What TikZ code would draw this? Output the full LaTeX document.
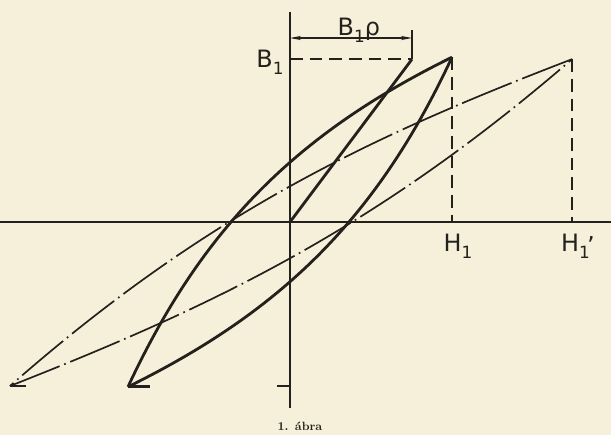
\documentclass[tikz,border=0pt]{standalone}
\usepackage{fontspec}
\setsansfont{DejaVu Sans}
\usetikzlibrary{arrows.meta, positioning, calc}
\definecolor{paper}{RGB}{246,240,219}
\definecolor{ink}{RGB}{36,32,28}
\newcommand{\idx}[1]{\raisebox{-0.55ex}{\fontsize{12}{13}\selectfont #1}}

\begin{document}
\begin{tikzpicture}[
    axis/.style={draw=ink, line width=1.1pt},
    loopline/.style={draw=ink, line width=2pt},
    dashdot/.style={draw=ink, line width=1.2pt, dash pattern=on 38pt off 3.5pt on 1.2pt off 3.5pt},
    guide/.style={draw=ink, line width=1.3pt, dash pattern=on 9pt off 5pt},
    lbl/.style={font=\sffamily\fontsize{17}{19}\selectfont, text=ink, inner sep=1pt},
    dim/.style={{Stealth[length=8pt,width=3pt]}-{Stealth[length=8pt,width=3pt]}, draw=ink, line width=0.8pt}
  ]

    % Paper
    \fill[paper] (-7.25,-5.325) rectangle (8.025,5.55);
    \useasboundingbox (-7.25,-5.325) rectangle (8.025,5.55);

    % Points
    \coordinate (O) at (0,0);
    \coordinate (ytop) at (0,5.25);
    \coordinate (ybot) at (0,-4.65);
    \coordinate (xl) at (-7.25,0);
    \coordinate (xr) at (8.025,0);
    \coordinate (solidtip) at (4.05,4.12);
    \coordinate (solidlow) at (-4.05,-4.12);
    \coordinate (dashtip) at (7.05,4.07);
    \coordinate (dashlow) at (-7.0,-4.1);
    \coordinate (b1pt) at (0,4.07);
    \coordinate (rho) at (3.05,4.07);
    \coordinate (rhotop) at (3.05,4.8);
    \coordinate (dimL) at (0,4.6);
    \coordinate (dimR) at (3.05,4.6);
    \coordinate (mb1) at (0,-4.1);

    % Axes
    \draw[axis] (xl) -- (xr);
    \draw[axis] (ybot) -- (ytop);
    \draw[axis] (mb1) -- ++(-0.33,0);

    % Dimension B1 rho
    \draw[axis] (rho) -- (rhotop);
    \draw[dim] (dimL) -- (dimR);
    \node[lbl, anchor=base west] (brho) at (1.15,4.66) {B\idx{1}ρ};

    % Guides
    \draw[guide] (b1pt) -- (rho);
    \draw[guide] (solidtip) -- (solidtip |- O);
    \draw[guide] (dashtip) -- (dashtip |- O);

    % Solid loop
    \draw[loopline] (solidtip) .. controls (0.15,2.2) and (-2.2,-0.15) .. (solidlow);
    \draw[loopline] (solidlow) .. controls (-0.15,-2.2) and (2.2,0.15) .. (solidtip);
    \draw[loopline] (rho) -- (O);
    \draw[loopline] (solidlow) -- ++(0.55,0);

    % Dash-dot loop
    \draw[dashdot] (dashtip) .. controls (2.05,2.15) and (-2.05,0.25) .. (dashlow);
    \draw[dashdot] (dashlow) .. controls (-2.05,-2.15) and (2.05,-0.25) .. (dashtip);
    \draw[axis] (dashlow) -- ++(0.4,0);

    % Labels
    \node[lbl, anchor=east] (b1) at (-0.12,4.0) {B\idx{1}};
    \node[lbl] (h1) at (4.2,-0.6) {H\idx{1}};
    \node[lbl] (h1p) at (7.2,-0.6) {H\idx{1}\kern-0.1em\raisebox{0.9ex}{,}};
    \node[font=\rmfamily\bfseries\fontsize{8.5}{9}\selectfont, text=ink] (cap) at (0.25,-5.12) {1. ábra};

  \end{tikzpicture}
\end{document}
